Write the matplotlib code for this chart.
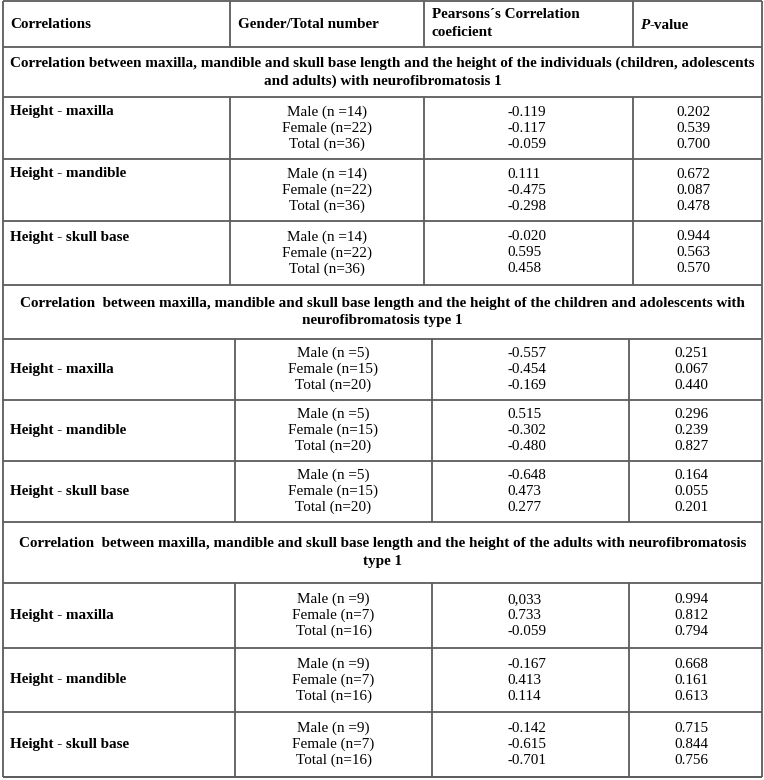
import matplotlib
matplotlib.use("Agg")
import matplotlib.pyplot as plt

# table content
col_headers = ["Correlations", "Gender/Total number", "Pearsons´s Correlation\ncoeficient", "-value"]
measures = ["Height - maxilla", "Height - mandible", "Height - skull base"]

sec_titles = [
    "Correlation between maxilla, mandible and skull base length and the height of the individuals (children, adolescents\nand adults) with neurofibromatosis 1",
    "Correlation  between maxilla, mandible and skull base length and the height of the children and adolescents with\nneurofibromatosis type 1",
    "Correlation  between maxilla, mandible and skull base length and the height of the adults with neurofibromatosis\ntype 1",
]

groups1 = ["Male (n =14)", "Female (n=22)", "Total (n=36)"]
groups2 = ["Male (n =5)", "Female (n=15)", "Total (n=20)"]
groups3 = ["Male (n =9)", "Female (n=7)", "Total (n=16)"]

r1 = [["-0.119", "-0.117", "-0.059"], ["0.111", "-0.475", "-0.298"], ["-0.020", "0.595", "0.458"]]
p1 = [["0.202", "0.539", "0.700"], ["0.672", "0.087", "0.478"], ["0.944", "0.563", "0.570"]]
r2 = [["-0.557", "-0.454", "-0.169"], ["0.515", "-0.302", "-0.480"], ["-0.648", "0.473", "0.277"]]
p2 = [["0.251", "0.067", "0.440"], ["0.296", "0.239", "0.827"], ["0.164", "0.055", "0.201"]]
r3 = [["0,033", "0.733", "-0.059"], ["-0.167", "0.413", "0.114"], ["-0.142", "-0.615", "-0.701"]]
p3 = [["0.994", "0.812", "0.794"], ["0.668", "0.161", "0.613"], ["0.715", "0.844", "0.756"]]

sections = [(groups1, r1, p1), (groups2, r2, p2), (groups3, r3, p3)]

# layout (pixels)
X0, X1 = 3, 762
cols_sec = [(230, 424, 633), (235, 432, 629), (235, 432, 629)]
header_y = (1, 47)
sec_title_y = [(47, 97), (285, 339), (522, 583)]
row_lines = [[97, 159, 221, 285], [339, 400, 461, 522], [583, 648, 712, 777]]
LINE_DY = 16
R_X = 507

plt.rcParams["font.family"] = ["Liberation Serif", "DejaVu Serif"]
FS = 10.9
LC = "#5c5c5c"
LW = 1.3

fig = plt.figure(figsize=(7.64, 7.80), dpi=100)
ax = fig.add_axes([0, 0, 1, 1])
ax.set_xlim(0, 764)
ax.set_ylim(780, 0)
ax.axis("off")


def hline(y):
    ax.plot([X0, X1], [y, y], color=LC, lw=LW, solid_capstyle="butt")


def vline(x, ya, yb):
    ax.plot([x, x], [ya, yb], color=LC, lw=LW, solid_capstyle="butt")


# outer frame
hline(header_y[0])
hline(row_lines[-1][-1])
vline(X0, header_y[0], row_lines[-1][-1])
vline(X1, header_y[0], row_lines[-1][-1])

# header row
hline(header_y[1])
for x in cols_sec[0]:
    vline(x, header_y[0], header_y[1])
hy = (header_y[0] + header_y[1]) / 2
ax.text(10, hy, col_headers[0], ha="left", va="center", fontsize=FS, fontweight="bold")
ax.text(cols_sec[0][0] + 8, hy, col_headers[1], ha="left", va="center", fontsize=FS, fontweight="bold")
ax.text(cols_sec[0][1] + 8, hy, col_headers[2], ha="left", va="center", fontsize=FS,
        fontweight="bold", linespacing=1.5)
ptxt = ax.text(cols_sec[0][2] + 7, hy + 5, "P", ha="left", va="baseline", fontsize=FS,
               fontweight="bold", fontstyle="italic")
renderer = fig.canvas.get_renderer()
bb = ptxt.get_window_extent(renderer).transformed(ax.transData.inverted())
ax.text(max(bb.x0, bb.x1), hy + 5, col_headers[3], ha="left", va="baseline",
        fontsize=FS, fontweight="bold")

for s, (groups, rv, pv) in enumerate(sections):
    c1, c2, c3 = cols_sec[s]
    ty0, ty1 = sec_title_y[s]
    hline(ty1)
    ax.text((X0 + X1) / 2, (ty0 + ty1) / 2, sec_titles[s], ha="center", va="center",
            fontsize=FS, fontweight="bold", linespacing=1.45)
    lines = row_lines[s]
    for x in (c1, c2, c3):
        vline(x, lines[0], lines[-1])
    for i, m in enumerate(measures):
        top, bot = lines[i], lines[i + 1]
        hline(bot)
        mid = (top + bot) / 2
        ys = [mid - LINE_DY, mid, mid + LINE_DY]
        label_y = ys[0] if s == 0 else mid
        ax.text(10, label_y, m, ha="left", va="center", fontsize=FS, fontweight="bold")
        for k in range(3):
            ax.text((c1 + c2) / 2, ys[k], groups[k], ha="center", va="center", fontsize=FS)
            ax.text(R_X, ys[k], rv[i][k], ha="left", va="center", fontsize=FS)
            ax.text((c3 + X1) / 2 - 4, ys[k], pv[i][k], ha="center", va="center", fontsize=FS)

fig.savefig("out.png", dpi=100)
